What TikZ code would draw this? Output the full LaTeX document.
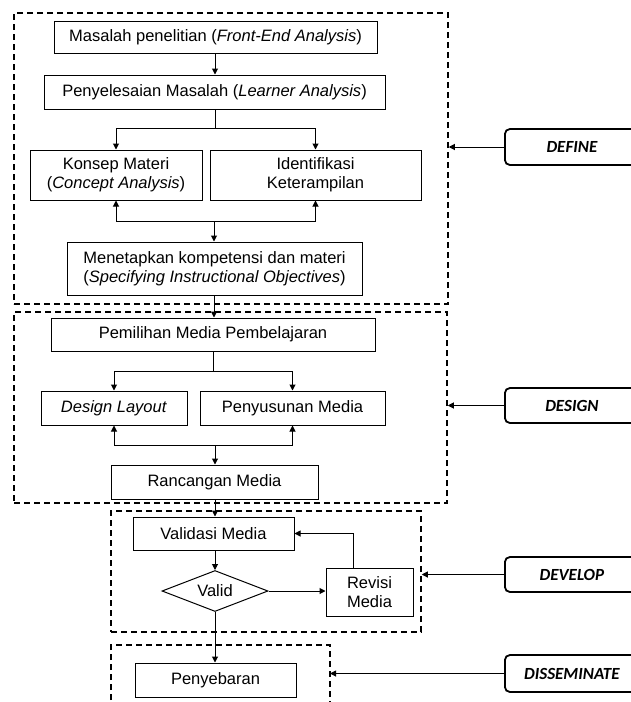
\documentclass[tikz,border=0pt]{standalone}
\usepackage{fontspec}
\setmainfont{Liberation Sans}
\newfontfamily\labfont{Carlito}
\usetikzlibrary{arrows.meta,shapes.geometric}
\tikzset{
  box/.style={draw,line width=1pt,inner sep=0pt,align=center,font=\fontsize{16.5}{19}\selectfont},
  frame/.style={draw,line width=1.5pt,dash pattern=on 6pt off 4pt,inner sep=0pt},
  stage/.style={draw,line width=1.8pt,rounded corners=5pt,inner sep=0pt,minimum width=134pt,font=\labfont\bfseries\itshape\fontsize{17}{19}\selectfont},
  arr/.style={line width=1pt,-{Triangle[length=6pt,width=6pt]}},
  ln/.style={line width=1pt}
}
\begin{document}
\begin{tikzpicture}[x=1pt,y=-1pt]
\useasboundingbox (0,0) rectangle (631,702);
\clip (0,0) rectangle (631,702);
% frames
\node[frame,minimum width=434pt,minimum height=291pt] (fdef) at (231,158.5) {};
\node[frame,minimum width=433pt,minimum height=191pt] (fdes) at (230.5,407.5) {};
\node[frame,minimum width=310pt,minimum height=121pt] (fdev) at (266,571.5) {};
\draw[line width=1.5pt,dash pattern=on 6pt off 4pt] (111,720) -- (111,645) -- (330,645) -- (330,720);
\coordinate (fdisE) at (330,673.5);
% define boxes
\node[box,minimum width=323pt,minimum height=32pt] (m1) at (215.5,37) {Masalah penelitian (\textit{Front-End Analysis})};
\node[box,minimum width=341pt,minimum height=34pt] (m2) at (214.5,92) {Penyelesaian Masalah (\textit{Learner Analysis})};
\node[box,minimum width=172pt,minimum height=50pt] (k3) at (116,175) {Konsep Materi\\(\textit{Concept Analysis})};
\node[box,minimum width=211pt,minimum height=50pt] (i4) at (315.5,175) {Identifikasi\\Keterampilan};
\node[box,minimum width=295pt,minimum height=53pt] (s5) at (214.5,268.5) {Menetapkan kompetensi dan materi\\(\textit{Specifying Instructional Objectives})};
% design boxes
\node[box,minimum width=324pt,minimum height=33pt] (p1) at (213,334.5) {Pemilihan Media Pembelajaran};
\node[box,minimum width=146pt,minimum height=34pt] (dl) at (114,408) {\textit{Design Layout}};
\node[box,minimum width=185pt,minimum height=34pt] (pm) at (292.5,408) {Penyusunan Media};
\node[box,minimum width=207pt,minimum height=34pt] (rm) at (214.5,482) {Rancangan Media};
% develop
\node[box,minimum width=161pt,minimum height=33pt] (vm) at (213.5,533.5) {Validasi Media};
\node[box,diamond,shape aspect=2.6,minimum width=106pt,minimum height=41pt] (va) at (215,591) {Valid};
\node[box,minimum width=87pt,minimum height=48pt] (rv) at (369.5,592) {Revisi\\Media};
% disseminate
\node[box,minimum width=161pt,minimum height=34pt] (pe) at (215.5,680) {Penyebaran};
% stage labels
\node[stage,minimum height=36pt,anchor=west] (ldef) at (504,147) {DEFINE};
\node[stage,minimum height=35pt,anchor=west] (ldes) at (504,405.5) {DESIGN};
\node[stage,minimum height=35pt,anchor=west] (ldev) at (504,574.5) {DEVELOP};
\node[stage,minimum height=37pt,anchor=west] (ldis) at (504,673.5) {DISSEMINATE};
\draw[arr] (ldef.west) -- (ldef.west -| fdef.east);
\draw[arr] (ldes.west) -- (ldes.west -| fdes.east);
\draw[arr] (ldev.west) -- (ldev.west -| fdev.east);
\draw[arr] (ldis.west) -- (fdisE);
% connectors define
\coordinate (b1) at (215,128);
\coordinate (j1) at (214,221);
\draw[arr] (m1.south -| b1) -- (m2.north -| b1);
\draw[ln] (m2.south -| b1) -- (b1);
\draw[arr] (b1) -| (k3.north);
\draw[arr] (b1) -| (i4.north);
\draw[arr] (j1) -| (k3.south);
\draw[arr] (j1) -| (i4.south);
\draw[arr] (j1) -- (s5.north -| j1);
\draw[arr] (s5.south -| j1) -- (p1.north -| j1);
% connectors design
\coordinate (b2) at (213,371);
\coordinate (j2) at (215,445);
\draw[ln] (p1.south -| b2) -- (b2);
\draw[arr] (b2) -| (dl.north);
\draw[arr] (b2) -| (pm.north);
\draw[arr] (j2) -| (dl.south);
\draw[arr] (j2) -| (pm.south);
\draw[arr] (j2) -- (rm.north -| j2);
\draw[arr] (rm.south -| j2) -- (vm.north -| j2);
% connectors develop
\draw[arr] (vm.south -| va) -- (va.north);
\draw[arr] (va.east) -- (va.east -| rv.west);
\draw[arr] (rv.north -| 353,0) |- (vm.east);
\draw[arr] (va.south) -- (pe.north -| va);
\end{tikzpicture}
\end{document}
